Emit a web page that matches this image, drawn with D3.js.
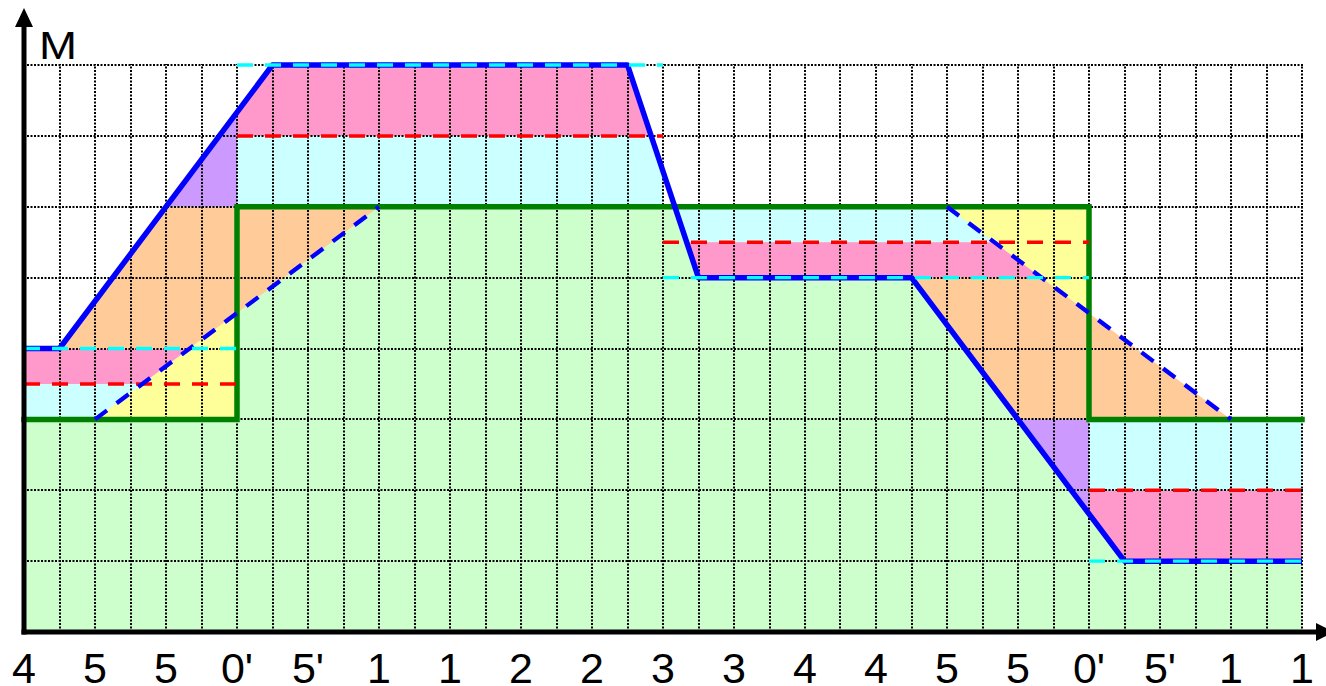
<!DOCTYPE html>
<html><head><meta charset="utf-8">
<script src="https://cdn.jsdelivr.net/npm/d3@7/dist/d3.min.js"></script>
<style>html,body{margin:0;padding:0;background:#fff;}svg{display:block;}</style>
</head><body>
<svg id="c" width="1326" height="686"></svg>
<script>
// ---- data ----
const xLabels = ["4","5","5","0'","5'","1","1","2","2","3","3","4","4","5","5","0'","5'","1","1"];
const yLabel = "M";
const greenLine = [[0,3],[6,3],[6,6],[30,6],[30,3],[36,3]];
const blueSolid = [[0,4],[1,4],[7,8],[17,8],[19,5],[25,5],[31,1],[36,1]];
const blueDashed = [[[2,3],[10,6]], [[26,6],[34,3]]];
const redLevels = [[0,6,3.5],[6,18,7],[18,30,5.5],[30,36,2]];
const cyanLevels = [[0,6,4],[6,18,8],[18,30,5],[30,36,1]];
const greenFill = [[0,0],[0,3],[6,3],[6,6],[30,6],[30,3],[36,3],[36,0]];
const cyanAreas = [
  [[0,3],[2,3],[10/3,3.5],[0,3.5]],
  [[6,6],[6,7],[53/3,7],[18,6.5],[18,6]],
  [[55/3,6],[26,6],[82/3,5.5],[56/3,5.5]],
  [[30,3],[36,3],[36,2],[30,2]]
];
const pinkAreas = [
  [[0,3.5],[10/3,3.5],[14/3,4],[0,4]],
  [[6,7],[6,22/3],[7,8],[17,8],[53/3,7]],
  [[56/3,5.5],[82/3,5.5],[86/3,5],[19,5]],
  [[30,2],[36,2],[36,1],[31,1],[30,5/3]]
];
const orangeAreas = [
  [[1,4],[14/3,4],[10,6],[4,6]],
  [[25,5],[86/3,5],[34,3],[28,3]]
];
const yellowAreas = [
  [[2,3],[6,3],[6,4.5]],
  [[26,6],[30,6],[30,4.5]]
];
const purpleAreas = [
  [[4,6],[6,6],[6,22/3]],
  [[28,3],[30,3],[30,5/3]]
];

// ---- scales ----
const svg = d3.select("#c");
const x = d3.scaleLinear().domain([0,36]).range([24,1302]);
const y = d3.scaleLinear().domain([0,8]).range([632,65]);
const line = d3.line().x(d=>x(d[0])).y(d=>y(d[1]));
const poly = pts => line(pts) + "Z";

// fills
svg.append("path").attr("d", poly(greenFill)).attr("fill","#ccffcc");
const fills = [[cyanAreas,"#ccffff"],[pinkAreas,"#ff99cc"],[orangeAreas,"#ffcc99"],[yellowAreas,"#ffff99"],[purpleAreas,"#cc99ff"]];
fills.forEach(([areas,col])=>{
  svg.append("g").selectAll("path").data(areas).join("path")
    .attr("d", poly).attr("fill", col);
});

// grid
const grid = svg.append("g").attr("stroke","#000").attr("stroke-width",2).attr("stroke-dasharray","2,1.5");
grid.selectAll("line.v").data(d3.range(1,37)).join("line").attr("class","v")
  .attr("x1",d=>Math.round(x(d))).attr("x2",d=>Math.round(x(d))).attr("y1",y(0)).attr("y2",y(8)-1);
grid.selectAll("line.h").data(d3.range(1,9)).join("line").attr("class","h")
  .attr("x1",x(0)+3).attr("x2",x(36)+1).attr("y1",d=>Math.round(y(d))).attr("y2",d=>Math.round(y(d)));

// green step line
svg.append("path").attr("d", line(greenLine)).attr("fill","none")
  .attr("stroke","#008000").attr("stroke-width",5.5).attr("stroke-linejoin","miter").attr("stroke-linecap","square");

// red dashed levels
svg.append("g").selectAll("line").data(redLevels).join("line")
  .attr("x1",d=>x(d[0])).attr("x2",d=>x(d[1])).attr("y1",d=>y(d[2])).attr("y2",d=>y(d[2]))
  .attr("stroke","#ff0000").attr("stroke-width",3.5).attr("stroke-dasharray","16,12");

// blue dashed
svg.append("g").selectAll("path").data(blueDashed).join("path")
  .attr("d", line).attr("fill","none").attr("stroke","#0000ff").attr("stroke-width",4.3).attr("stroke-dasharray","15,12");

// blue solid
svg.append("path").attr("d", line(blueSolid)).attr("fill","none")
  .attr("stroke","#0000ff").attr("stroke-width",5.5).attr("stroke-linejoin","round");

// cyan dashed levels
svg.append("g").selectAll("line").data(cyanLevels).join("line")
  .attr("x1",d=>x(d[0])).attr("x2",d=>x(d[1])).attr("y1",d=>y(d[2])).attr("y2",d=>y(d[2]))
  .attr("stroke","#00ffff").attr("stroke-width",3.3).attr("stroke-dasharray","16,12");

// axes
const ax = svg.append("g");
ax.append("line").attr("x1",x(0)).attr("x2",x(0)).attr("y1",y(0)+2.5).attr("y2",24).attr("stroke","#000").attr("stroke-width",5);
ax.append("path").attr("d",`M${x(0)},8 L${x(0)-9},27 L${x(0)+9},27 Z`).attr("fill","#000");
ax.append("line").attr("x1",x(0)-2.5).attr("x2",1318).attr("y1",y(0)).attr("y2",y(0)).attr("stroke","#000").attr("stroke-width",5);
ax.append("path").attr("d",`M1334,${y(0)} L1316,${y(0)-9} L1316,${y(0)+9} Z`).attr("fill","#000");

// labels
svg.append("g").selectAll("text").data(xLabels).join("text")
  .attr("x",(d,i)=>x(i*2)).attr("y",683).attr("text-anchor","middle")
  .attr("font-family","Liberation Sans, Arial, sans-serif").attr("font-size",43).attr("fill","#000")
  .text(d=>d);
svg.append("text").attr("transform","translate(39,59) scale(1.2,1)")
  .attr("font-family","Liberation Sans, Arial, sans-serif")
  .attr("font-size",38).attr("fill","#000").text(yLabel);
</script>
</body></html>
